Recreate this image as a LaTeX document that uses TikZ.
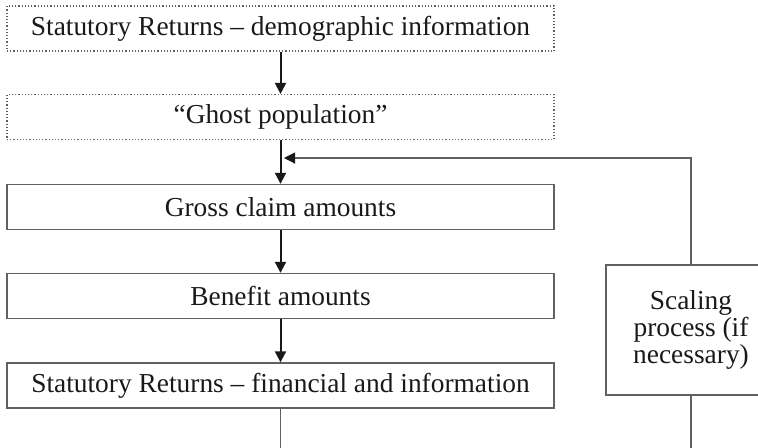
\documentclass[tikz,border=0pt]{standalone}
\usepackage{fontspec}
\setmainfont{Liberation Serif}
\usetikzlibrary{arrows.meta}
\definecolor{myblack}{rgb}{0.100,0.100,0.100}
\definecolor{mygrey}{rgb}{0.380,0.380,0.380}
\tikzstyle{none}=[inner sep=0pt]
\tikzstyle{dotbox}=[rectangle,draw=mygrey,line width=0.55pt,dash pattern=on 0.6pt off 1pt,minimum width=273.5pt,minimum height=22.5pt,inner sep=0pt,text=myblack,font=\fontsize{13.7}{15}\selectfont]
\tikzstyle{box}=[rectangle,draw=mygrey,line width=0.7pt,minimum width=273.5pt,minimum height=22.5pt,inner sep=0pt,text=myblack,font=\fontsize{13.7}{15}\selectfont]
\tikzstyle{sidebox}=[box,minimum width=85pt,minimum height=65pt,align=center,font=\fontsize{13.7}{13.3}\selectfont]
\tikzstyle{flow}=[draw=myblack,line width=1pt,-{Triangle[length=5.5pt,width=5.5pt]}]
\tikzstyle{back}=[draw=mygrey,line width=0.55pt,-{Triangle[length=5.5pt,width=5.5pt,fill=myblack,color=myblack]}]
\tikzstyle{tail}=[draw=mygrey,line width=0.55pt]

\begin{document}
\begin{tikzpicture}[x=0.5pt,y=-0.5pt]
	\useasboundingbox (0,0) rectangle (758,447);
	\clip (0,0) rectangle (758,447);
	% main column
		\node [style=dotbox] (0) at (280.5, 28.5) {Statutory Returns -- demographic information};
		\node [style=dotbox] (1) at (280.5, 117) {``Ghost population''};
		\node [style=box] (2) at (280.5, 207) {Gross claim amounts};
		\node [style=box] (3) at (280.5, 296) {Benefit amounts};
		\node [style=box] (4) at (280.5, 385.5) {Statutory Returns -- financial and information};
	% side column
		\node [style=sidebox] (5) at (691, 330) {Scaling\\process (if\\necessary)};
		\node [none] (v1) at (691, 158) {};
		\node [none] (v2) at (284, 158) {};
		\node [none] (v3) at (280.5, 460) {};
		\node [none] (v4) at (691, 460) {};
	% arrows
		\draw [style=flow] (0) to (1);
		\draw [style=flow] (1) to (2);
		\draw [style=flow] (2) to (3);
		\draw [style=flow] (3) to (4);
		\draw [style=tail] (4) to (v3);
		\draw [style=tail] (5) to (v4);
		\draw [style=back] (5.north) -- (v1.center) -- (v2.center);
\end{tikzpicture}
\end{document}
